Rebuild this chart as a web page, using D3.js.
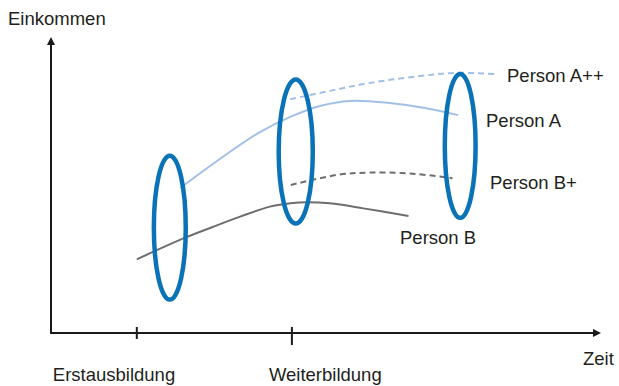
<!DOCTYPE html>
<html><head><meta charset="utf-8">
<script src="https://cdn.jsdelivr.net/npm/d3@7"></script>
<style>
html,body{margin:0;padding:0;background:#fff;}
svg{display:block;}
text{font-family:"Liberation Sans",Arial,Helvetica,sans-serif;fill:#231f20;}
</style></head>
<body>
<svg id="chart" width="619" height="386"></svg>
<script>
// Data (time 0..100, income 0..100)
const personB   = [[15.6,24.9],[24.4,32.2],[29.5,35.9],[34.4,39.3],[39.8,42.7],[43.5,43.8],[46.5,44.2],[50.7,43.8],[56.8,42.1],[65.0,39.5]];
const personBp  = [[43.6,50.0],[52.0,53.4],[58.0,54.2],[65.3,53.9],[73.0,52.3]];
const personA   = [[23.5,49.0],[30.7,58.8],[38.0,67.9],[43.5,73.0],[48.9,76.7],[54.4,78.4],[61.6,77.7],[68.0,76.0],[74.0,73.6]];
const personApp = [[43.5,79.0],[50.7,81.8],[58.0,84.5],[67.1,86.8],[73.8,87.9],[81.1,87.4]];
const seriesNames = ["Person B","Person B+","Person A","Person A++"];
const tickValues = [15.6, 43.8];
const tickLabels = ["Erstausbildung","Weiterbildung"];
const ellipseCx = [21.6, 44.5, 74.4];
const ellipseCy = [35.6, 61.3, 63.2];
const ellipseRx = [2.9, 3.1, 2.8];
const ellipseRy = [24.3, 24.3, 24.3];

const svg = d3.select("#chart");
const x = d3.scaleLinear().domain([0,100]).range([51,601]);
const y = d3.scaleLinear().domain([0,100]).range([333,37]);

const line = d3.line().x(d=>x(d[0])).y(d=>y(d[1])).curve(d3.curveCatmullRom.alpha(0.5));

const styles = [
  {data:personB,   color:"#6e6e6e", dash:null},
  {data:personBp,  color:"#6e6e6e", dash:"6,4"},
  {data:personA,   color:"#a2bfe6", dash:null},
  {data:personApp, color:"#a2bfe6", dash:"6,4"}
];
styles.forEach(s=>{
  svg.append("path").attr("d", line(s.data)).attr("fill","none")
    .attr("stroke", s.color).attr("stroke-width",2)
    .attr("stroke-dasharray", s.dash);
});

// ellipses
ellipseCx.forEach((cx,i)=>{
  svg.append("ellipse")
    .attr("cx", x(cx)).attr("cy", y(ellipseCy[i]))
    .attr("rx", x(ellipseRx[i]) - x(0)).attr("ry", y(0) - y(ellipseRy[i]))
    .attr("fill","none").attr("stroke","#0a72b6").attr("stroke-width",4.5);
});

// axes
const axisColor = "#1a1a1a";
svg.append("line").attr("x1",x(0)).attr("y1",y(0)).attr("x2",x(0)).attr("y2",y(100)+6)
  .attr("stroke",axisColor).attr("stroke-width",2);
svg.append("line").attr("x1",x(0)-1).attr("y1",y(0)).attr("x2",x(100)-6).attr("y2",y(0))
  .attr("stroke",axisColor).attr("stroke-width",2);
svg.append("path").attr("d",`M${x(0)},${y(100)} L${x(0)-4},${y(100)+8} L${x(0)+4},${y(100)+8} Z`).attr("fill",axisColor);
svg.append("path").attr("d",`M${x(100)},${y(0)} L${x(100)-8},${y(0)-4} L${x(100)-8},${y(0)+4} Z`).attr("fill",axisColor);

// ticks
const tickBottoms = [6, 12];
const labelDx = [-84, -23];
tickValues.forEach((t,i)=>{
  svg.append("line").attr("x1",x(t)).attr("x2",x(t)).attr("y1",y(0)-6).attr("y2",y(0)+tickBottoms[i])
    .attr("stroke",axisColor).attr("stroke-width",2);
  svg.append("text").attr("x",x(t)+labelDx[i]).attr("y",381).attr("font-size",18.5).text(tickLabels[i]);
});

svg.append("text").attr("x",8).attr("y",25).attr("font-size",18.5).text("Einkommen");
svg.append("text").attr("x",583).attr("y",365).attr("font-size",18.5).text("Zeit");

// series labels
const labelPos = [[400,244],[490,189],[486,127],[507,82]];
seriesNames.forEach((n,i)=>{
  svg.append("text").attr("x",labelPos[i][0]).attr("y",labelPos[i][1]).attr("font-size",18.5).text(n);
});
</script>
</body></html>
